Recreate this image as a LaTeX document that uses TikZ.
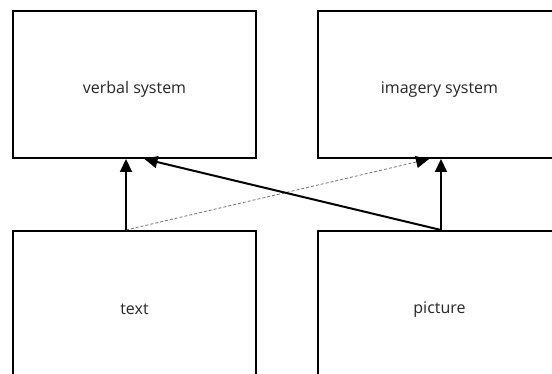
\documentclass[tikz,border=0pt]{standalone}
\usepackage{fontspec}
\setmainfont{Open Sans}
\usetikzlibrary{arrows.meta,calc}
\begin{document}
\begin{tikzpicture}[x=1pt,y=-1pt,
  box/.style={draw=black,line width=2pt,minimum width=243pt,minimum height=147pt,inner sep=0pt,anchor=north west},
  lbl/.style={font=\fontsize{16}{18}\selectfont,text=black!85},
  conn/.style={line width=2pt,-{Triangle[length=13pt,width=12pt]}},
  weak/.style={draw=black!55,line width=0.8pt,dash pattern=on 3pt off 2pt,-{Triangle[length=13pt,width=12pt,fill=black,color=black]}}]
\useasboundingbox (0,0) rectangle (552,374);
\clip (0,0) rectangle (552,374);
\node[box] (verbal) at (12,10) {};
\node[box] (imagery) at (317,10) {};
\node[box] (text) at (12,230) {};
\node[box] (picture) at (317,230) {};
\node[lbl] (lv) at ($(verbal.center)+(0,5)$) {verbal system};
\node[lbl] (li) at ($(imagery.center)+(0,5)$) {imagery system};
\node[lbl] (lt) at ($(text.center)+(0,5)$) {text};
\node[lbl] (lp) at ($(picture.center)+(0,5)$) {picture};
\coordinate (tfrom) at ($(text.north)+(-8.5,0)$);
\coordinate (pfrom) at ($(picture.north)+(1.5,0)$);
\coordinate (vto1) at ($(verbal.south)+(-8.5,0)$);
\coordinate (vto2) at ($(verbal.south)+(10,0)$);
\coordinate (ito1) at ($(imagery.south)+(-10.5,0)$);
\coordinate (ito2) at ($(imagery.south)+(1.5,0)$);
\draw[weak] (tfrom) -- (ito1);
\draw[conn] (tfrom) -- (vto1);
\draw[conn] (pfrom) -- (vto2);
\draw[conn] (pfrom) -- (ito2);
\end{tikzpicture}
\end{document}
